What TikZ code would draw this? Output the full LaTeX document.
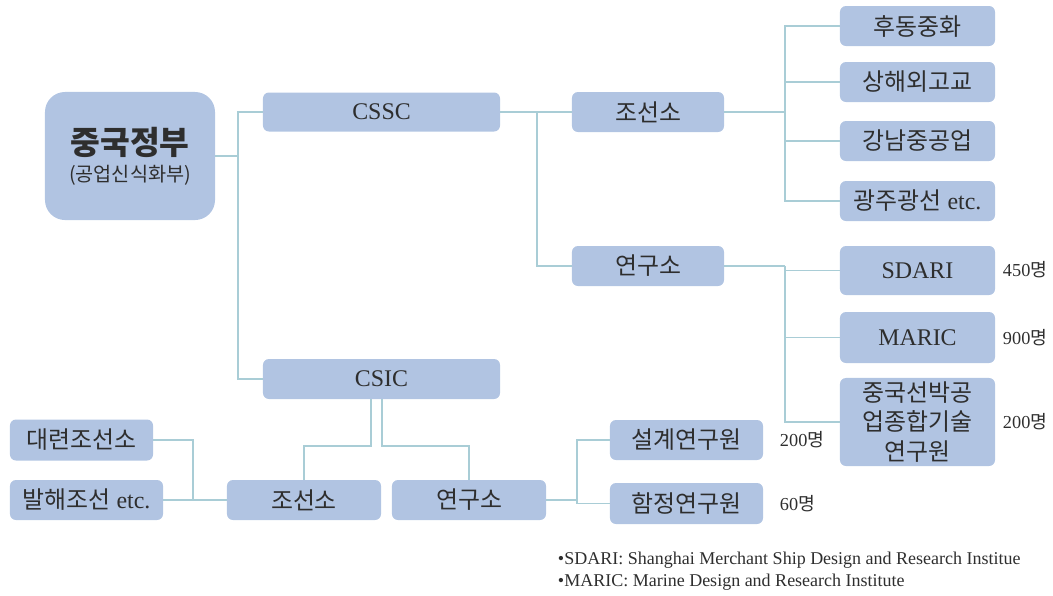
\documentclass[tikz,border=0pt]{standalone}
\usepackage{fontspec}
\setmainfont{Liberation Serif}
\newfontfamily\kr{Noto Sans CJK KR}
\definecolor{boxblue}{HTML}{B1C4E2}
\definecolor{linkteal}{HTML}{A9CDD6}
\definecolor{inkgray}{HTML}{2E2E2E}
\begin{document}
\begin{tikzpicture}[x=0.025cm,y=-0.025cm,
		box/.style={fill=boxblue,rounded corners=0.15cm,text=inkgray,minimum width=3.85cm,minimum height=1cm,inner sep=0pt,font=\fontsize{17}{21}\selectfont},
		link/.style={linkteal,line width=1pt},
		count/.style={text=inkgray,font=\fontsize{13}{15}\selectfont}]
	\useasboundingbox (0,0) rectangle (1053,595);
	
	% top level
	\node[box,minimum width=4.25cm,minimum height=3.2cm,rounded corners=0.5cm,align=center] (gov) at (130,156)
		{{\kr\bfseries\fontsize{23}{30}\selectfont 중국정부}\\[-2pt]{\kr\fontsize{14}{18}\selectfont (공업신식화부)}};
	\node[box,minimum width=5.925cm,minimum height=0.975cm] (cssc) at (381.5,112) {CSSC};
	\node[box,minimum width=5.925cm] (csic) at (381.5,379) {CSIC};
	
	% CSSC side
	\node[box,minimum width=3.8cm] (yard) at (648,112) {\kr 조선소};
	\node[box,minimum width=3.8cm] (inst) at (648,266) {\kr 연구소};
	\node[box,minimum width=3.875cm] (hd) at (917.5,26) {\kr 후동중화};
	\node[box,minimum width=3.875cm] (sh) at (917.5,82) {\kr 상해외고교};
	\node[box,minimum width=3.875cm] (gn) at (917.5,141) {\kr 강남중공업};
	\node[box,minimum width=3.875cm] (gz) at (917.5,201) {{\kr 광주광선} etc.};
	\node[box,minimum width=3.875cm,minimum height=1.225cm] (sdari) at (917.5,270.5) {SDARI};
	\node[box,minimum width=3.875cm,minimum height=1.275cm] (maric) at (917.5,337.5) {MARIC};
	\node[box,minimum width=3.875cm,minimum height=2.2cm,align=center] (cssrc) at (917.5,422) {\kr 중국선박공\\\kr 업종합기술\\\kr 연구원};
	\node[count,anchor=west] (n450) at (998,270) {450{\kr 명}};
	\node[count,anchor=west] (n900) at (998,338) {900{\kr 명}};
	\node[count,anchor=west] (n200a) at (998,422) {200{\kr 명}};
	
	% CSIC side
	\node[box,minimum width=3.575cm,minimum height=1.025cm] (dl) at (81.5,440) {\kr 대련조선소};
	\node[box,minimum width=3.825cm] (bh) at (86.5,500) {{\kr 발해조선} etc.};
	\node[box] (yard2) at (304,500) {\kr 조선소};
	\node[box] (inst2) at (469,500) {\kr 연구소};
	\node[box,minimum width=3.825cm] (sj) at (686.5,440) {\kr 설계연구원};
	\node[box,minimum width=3.825cm,minimum height=1.025cm] (hj) at (686.5,503.5) {\kr 함정연구원};
	\node[count,anchor=west] (n200b) at (775,440) {200{\kr 명}};
	\node[count,anchor=west] (n60) at (775,504) {60{\kr 명}};
	
	% connectors
	\coordinate (j1) at (238,156);
	\draw[link] (gov.east) -- (j1) |- (cssc.west);
	\draw[link] (j1) |- (csic.west);
	\coordinate (j2) at (537,112);
	\draw[link] (cssc.east) -- (yard.west);
	\draw[link] (j2) |- (inst.west);
	\coordinate (j3) at (785,112);
	\draw[link] (yard.east) -- (j3);
	\foreach \n in {hd,sh,gn,gz}{
		\draw[link] (j3) |- (\n.west); }
	\coordinate (j4) at (785,266);
	\draw[link] (inst.east) -- (j4);
	\foreach \n in {sdari,maric,cssrc}{
		\draw[link] (j4) |- (\n.west); }
	\coordinate (k1) at (371,446);
	\coordinate (k2) at (382,446);
	\draw[link] (k1 |- csic.south) -- (k1) -| (yard2.north);
	\draw[link] (k2 |- csic.south) -- (k2) -| (inst2.north);
	\coordinate (k3) at (193,440);
	\draw[link] (dl.east) -- (k3) |- (yard2.west);
	\draw[link] (bh.east) -- (yard2.west);
	\coordinate (k4) at (577,500);
	\draw[link] (inst2.east) -- (k4);
	\draw[link] (k4) |- (sj.west);
	\draw[link] (k4) |- (hj.west);
	
	% notes
	\node[anchor=west,text=inkgray,font=\fontsize{12.8}{15}\selectfont] (note1) at (553,560) {•SDARI: Shanghai Merchant Ship Design and Research Institue};
	\node[anchor=west,text=inkgray,font=\fontsize{12.8}{15}\selectfont] (note2) at (553,582) {•MARIC: Marine Design and Research Institute};
\end{tikzpicture}
\end{document}
